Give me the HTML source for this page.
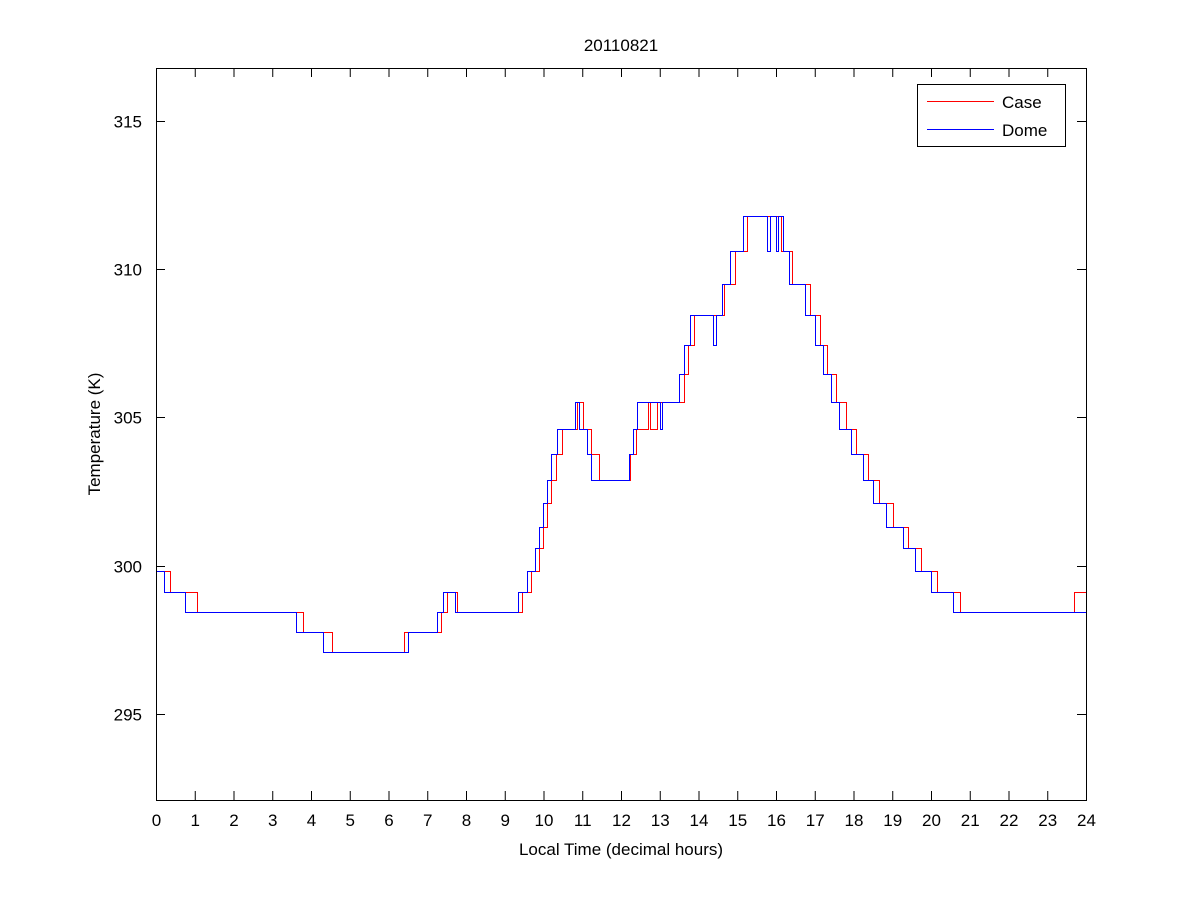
<!DOCTYPE html>
<html><head><meta charset="utf-8"><style>
body{margin:0;background:#fff;}
svg{display:block;font-family:"Liberation Sans",Arial,sans-serif;}
</style></head><body>
<svg id="s" width="1200" height="900" xmlns="http://www.w3.org/2000/svg">
<rect width="1200" height="900" fill="#fff"/>
<g id="g"></g>
<rect x="156.5" y="68.5" width="930" height="732" fill="none" stroke="#000" stroke-width="1"/>
<text x="621" y="51" font-size="17" text-anchor="middle">20110821</text>
<text x="621" y="855" font-size="17" text-anchor="middle">Local Time (decimal hours)</text>
<text transform="translate(100,434) rotate(-90)" font-size="17" text-anchor="middle">Temperature (K)</text>
<rect x="917.5" y="84.5" width="148" height="62" fill="#fff" stroke="#000"/>
<line x1="927" y1="101.5" x2="994" y2="101.5" stroke="#ff0000"/>
<line x1="927" y1="129.5" x2="994" y2="129.5" stroke="#0000ff"/>
<text x="1002" y="108" font-size="17">Case</text>
<text x="1002" y="136" font-size="17">Dome</text>
</svg>
<script>
var g=document.getElementById('g'),h='';
for(var i=0;i<=24;i++){var x=156.5+i*38.75;
h+='<line x1="'+x+'" y1="800" x2="'+x+'" y2="791" stroke="#000"/><line x1="'+x+'" y1="68" x2="'+x+'" y2="77" stroke="#000"/>';
h+='<text x="'+x+'" y="826" font-size="17" text-anchor="middle">'+i+'</text>';}
var yt=[[315,121],[310,269],[305,417],[300,566],[295,714]];
yt.forEach(function(t){var y=t[1]+0.5;h+='<line x1="156" y1="'+y+'" x2="165" y2="'+y+'" stroke="#000"/><line x1="1077" y1="'+y+'" x2="1086" y2="'+y+'" stroke="#000"/><text x="142" y="'+(y+6)+'" font-size="17" text-anchor="end">'+t[0]+'</text>';});
var dome=[[156,571],[164,592],[185,612],[296,632],[323,652],[408,632],[437,612],[443,592],[455,612],[518,592],[527,571],[535,548],[539,527],[543,503],[547,480],[551,454],[557,429],[575,402],[579,429],[587,454],[591,480],[629,454],[633,429],[637,402],[660,429],[662,402],[679,374],[684,345],[690,315],[713,345],[716,315],[722,284],[730,251],[743,216],[767,251],[770,216],[776,251],[778,216],[783,251],[789,284],[805,315],[815,345],[823,374],[831,402],[839,429],[851,454],[863,480],[873,503],[886,527],[903,548],[915,571],[931,592],[953,612],[1086,612]];
var cas=[[156,571],[170,592],[197,612],[303,632],[332,652],[404,632],[441,612],[447,592],[457,612],[522,592],[531,571],[539,548],[543,527],[547,503],[551,480],[556,454],[562,429],[577,402],[583,429],[591,454],[599,480],[630,454],[636,429],[648,402],[650,429],[657,402],[684,374],[688,345],[694,315],[724,284],[735,251],[747,216],[781,251],[792,284],[810,315],[820,345],[827,374],[836,402],[846,429],[856,454],[868,480],[879,503],[893,527],[908,548],[921,571],[937,592],[960,612],[1074,592],[1086,592]];
function path(p){var d='M'+(p[0][0]+.5)+' '+(p[0][1]+.5);for(var i=1;i<p.length;i++){d+=' H'+(p[i][0]+.5)+' V'+(p[i][1]+.5);}return d;}
h+='<path d="'+path(cas)+'" fill="none" stroke="#ff0000" stroke-width="1"/>';
h+='<path d="'+path(dome)+'" fill="none" stroke="#0000ff" stroke-width="1"/>';
g.innerHTML=h;
</script>
</body></html>
